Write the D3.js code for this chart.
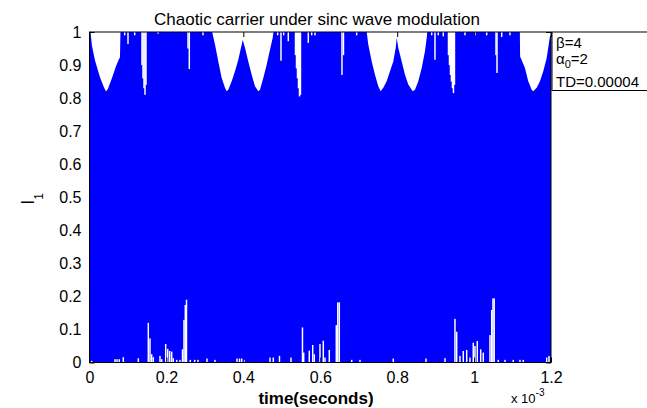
<!DOCTYPE html>
<html>
<head>
<meta charset="utf-8">
<script src="https://cdn.jsdelivr.net/npm/d3@7"></script>
<style>
  body { margin: 0; background: #fff; }
  text { font-family: "Liberation Sans", Arial, sans-serif; fill: #000; }
</style>
</head>
<body>
<svg width="647" height="408"></svg>
<script>
// ---- data (time in units of 1e-3 s, I1 value) ----

// upper envelope of the carrier: the scallops under the 1.0 line
var upperEnv = [
  [0, 1], [0.003, 0.994], [0.0065, 0.958], [0.014, 0.915], [0.027, 0.864], [0.038, 0.831],
  [0.043, 0.82], [0.048, 0.828], [0.0585, 0.861], [0.069, 0.897], [0.078, 0.921], [0.0792, 0.921], [0.0805, 1],
  [0.319, 1], [0.3263, 0.962], [0.3349, 0.911], [0.3437, 0.861], [0.3523, 0.831], [0.3567, 0.821],
  [0.3609, 0.825], [0.3697, 0.851], [0.3783, 0.881], [0.3869, 0.916], [0.3939, 0.952], [0.3986, 0.976],
  [0.4043, 0.952], [0.4129, 0.911], [0.4217, 0.871], [0.4303, 0.836], [0.4389, 0.821], [0.4433, 0.825],
  [0.4519, 0.861], [0.4607, 0.901], [0.4693, 0.946], [0.4763, 0.982], [0.4784, 1],
  [0.7208, 1], [0.7249, 0.962], [0.7338, 0.911], [0.7423, 0.871], [0.7509, 0.836], [0.7571, 0.821],
  [0.7639, 0.831], [0.7727, 0.851], [0.7813, 0.881], [0.7899, 0.911], [0.7962, 0.952], [0.7988, 0.982],
  [0.8029, 0.952], [0.8118, 0.911], [0.8203, 0.871], [0.8289, 0.841], [0.8404, 0.821], [0.8463, 0.825],
  [0.8549, 0.851], [0.8638, 0.891], [0.8723, 0.942], [0.8768, 0.982], [0.8783, 1],
  [1.119, 1], [1.1197, 0.926], [1.1323, 0.891], [1.1409, 0.851], [1.1498, 0.825], [1.1539, 0.821],
  [1.1628, 0.831], [1.1713, 0.851], [1.1799, 0.881], [1.1888, 0.921], [1.1973, 0.987], [1.2, 0.99]
];

// narrow downward gaps from the top (time, lowest value reached)
var topDips = [
  [0.0915, 0.99], [0.1001, 0.964], [0.1175, 0.99],
  [0.1365, 0.90], [0.1391, 0.86], [0.1417, 0.83], [0.1443, 0.81], [0.1469, 0.84],
  [0.1781, 0.995], [0.2561, 0.95], [0.2595, 0.888], [0.2951, 0.99],
  [0.4893, 0.99], [0.4979, 0.913], [0.5049, 0.99], [0.5169, 0.972],
  [0.5356, 0.93], [0.5382, 0.89], [0.5408, 0.86], [0.5434, 0.83], [0.546, 0.805], [0.5486, 0.81],
  [0.5689, 0.967], [0.5777, 0.99], [0.5863, 0.99],
  [0.6565, 0.87], [0.6604, 0.93], [0.6947, 0.99],
  [0.8898, 0.99], [0.8983, 0.916], [0.9069, 0.99], [0.9199, 0.987],
  [0.9334, 0.93], [0.936, 0.90], [0.9386, 0.87], [0.9412, 0.85], [0.9438, 0.83], [0.9464, 0.815], [0.949, 0.84],
  [0.9763, 0.99], [1.0023, 0.99], [1.0328, 0.99], [1.057, 0.93], [1.0596, 0.876],
  [1.0718, 0.985], [1.0933, 0.99]
];

// narrow upward gaps from the bottom (time, highest value reached)
var bottomSpikes = [
  [0.0057, 0.005], [0.0663, 0.01], [0.0715, 0.01], [0.0775, 0.01], [0.0879, 0.016], [0.1269, 0.013],
  [0.1529, 0.12], [0.1573, 0.073], [0.1617, 0.025], [0.1659, 0.016], [0.1833, 0.02], [0.1877, 0.01],
  [0.1981, 0.056], [0.2033, 0.041], [0.2085, 0.035], [0.2137, 0.033], [0.2179, 0.013], [0.2267, 0.008],
  [0.2353, 0.008], [0.2418, 0.04], [0.2457, 0.129], [0.2491, 0.174], [0.2522, 0.19],
  [0.2621, 0.008], [0.2735, 0.008], [0.2821, 0.008], [0.3055, 0.012], [0.3263, 0.008],
  [0.3835, 0.012], [0.39, 0.012], [0.3957, 0.012], [0.4025, 0.008], [0.4693, 0.015], [0.4779, 0.015],
  [0.494, 0.02], [0.5239, 0.015], [0.5538, 0.106], [0.557, 0.03], [0.5715, 0.036], [0.5804, 0.053],
  [0.5845, 0.025], [0.5993, 0.056], [0.6079, 0.066], [0.6123, 0.015], [0.6235, 0.038],
  [0.6417, 0.113], [0.6456, 0.182], [0.6495, 0.182], [0.6818, 0.008], [0.7033, 0.008],
  [0.7899, 0.012], [0.8749, 0.012], [0.9243, 0.013], [0.9503, 0.132], [0.9548, 0.093],
  [0.9633, 0.02], [0.9719, 0.035], [0.9808, 0.038], [0.9893, 0.015], [0.9979, 0.06], [1.0023, 0.05],
  [1.0083, 0.065], [1.0172, 0.04], [1.0239, 0.03], [1.0413, 0.083], [1.0458, 0.159], [1.0491, 0.194],
  [1.0523, 0.194], [1.0629, 0.008], [1.0803, 0.008], [1.1019, 0.008], [1.1193, 0.008], [1.1279, 0.008],
  [1.1888, 0.015], [1.1948, 0.02]
];

var xTicks = [0, 0.2, 0.4, 0.6, 0.8, 1, 1.2];
var xTickLabels = ["0", "0.2", "0.4", "0.6", "0.8", "1", "1.2"];
var yTicks = [0, 0.1, 0.2, 0.3, 0.4, 0.5, 0.6, 0.7, 0.8, 0.9, 1];
var yTickLabels = ["0", "0.1", "0.2", "0.3", "0.4", "0.5", "0.6", "0.7", "0.8", "0.9", "1"];

var titleText = "Chaotic carrier under sinc wave modulation";
var xLabel = "time(seconds)";
var params = { beta: "4", alpha0: "2", td: "0.00004" };

// ---- chart ----
var svg = d3.select("svg");

var x = d3.scaleLinear().domain([0, 1.2]).range([89.5, 551]),
    y = d3.scaleLinear().domain([0, 1]).range([362.5, 32]);

var gapWidth = 0.0038; // one sample column, in time units

// ticks sit under the data (MATLAB layer = bottom)
function styleAxis(g) {
  g.select(".domain").remove();
  g.selectAll(".tick line").attr("stroke", "#000");
  g.selectAll("text").attr("font-size", 16).attr("font-family", "Liberation Sans, Arial, sans-serif");
}

svg.append("g")
    .attr("transform", "translate(0,362.5)")
    .call(d3.axisBottom(x).tickValues(xTicks).tickFormat(function(d, i) { return xTickLabels[i]; })
      .tickSize(-5).tickPadding(9))
    .call(styleAxis);

svg.append("g")
    .attr("transform", "translate(89.5,0)")
    .call(d3.axisLeft(y).tickValues(yTicks).tickFormat(function(d, i) { return yTickLabels[i]; })
      .tickSize(-5).tickPadding(8))
    .call(styleAxis);

svg.append("g")
    .attr("transform", "translate(0,32)")
    .call(d3.axisTop(x).tickValues(xTicks).tickFormat("").tickSize(-5))
    .call(styleAxis);

svg.append("g")
    .attr("transform", "translate(551,0)")
    .call(d3.axisRight(y).tickValues(yTicks).tickFormat("").tickSize(-5))
    .call(styleAxis);

// mask that cuts the narrow gaps out of the blue fill
var mask = svg.append("defs").append("mask").attr("id", "gaps");
mask.append("rect").attr("width", 647).attr("height", 408).attr("fill", "#fff");
mask.selectAll("rect.top")
    .data(topDips)
    .enter().append("rect")
    .attr("class", "top")
    .attr("x", function(d) { return x(d[0] - gapWidth / 2); })
    .attr("width", function(d) { return x(d[0] + gapWidth / 2) - x(d[0] - gapWidth / 2); })
    .attr("y", y(1) - 1)
    .attr("height", function(d) { return y(d[1]) - y(1) + 1; })
    .attr("fill", "#000");
mask.selectAll("rect.bot")
    .data(bottomSpikes)
    .enter().append("rect")
    .attr("class", "bot")
    .attr("x", function(d) { return x(d[0] - gapWidth / 2); })
    .attr("width", function(d) { return x(d[0] + gapWidth / 2) - x(d[0] - gapWidth / 2); })
    .attr("y", function(d) { return y(d[1]); })
    .attr("height", function(d) { return y(0) - y(d[1]) + 1; })
    .attr("fill", "#000");

var area = d3.area()
    .x(function(d) { return x(d[0]); })
    .y0(y(0))
    .y1(function(d) { return y(d[1]); });

svg.append("path")
    .datum(upperEnv)
    .attr("d", area)
    .attr("fill", "#0000ff")
    .attr("mask", "url(#gaps)");

// axes box
svg.append("rect")
    .attr("x", x(0)).attr("y", y(1))
    .attr("width", x(1.2) - x(0)).attr("height", y(0) - y(1))
    .attr("fill", "none")
    .attr("stroke", "#000")
    .attr("stroke-width", 1);

// legend box (runs off the right edge)
var leg = svg.append("g");
leg.append("rect")
    .attr("x", 552).attr("y", 32)
    .attr("width", 120).attr("height", 58.5)
    .attr("fill", "#fff")
    .attr("stroke", "#000");

leg.append("text").attr("x", 556).attr("y", 48).attr("font-size", 15).text("\u03b2=" + params.beta);
var a = leg.append("text").attr("x", 556).attr("y", 64).attr("font-size", 15);
a.append("tspan").text("\u03b1");
a.append("tspan").attr("dy", 4).attr("font-size", 11).text("0");
a.append("tspan").attr("dy", -4).text("=" + params.alpha0);
leg.append("text").attr("x", 556).attr("y", 87).attr("font-size", 15).text("TD=" + params.td);

// title and labels
svg.append("text")
    .attr("x", 317).attr("y", 25)
    .attr("text-anchor", "middle")
    .attr("font-size", 17)
    .text(titleText);

svg.append("text")
    .attr("x", 316).attr("y", 404)
    .attr("text-anchor", "middle")
    .attr("font-size", 17)
    .attr("font-weight", "bold")
    .text(xLabel);

var yl = svg.append("text")
    .attr("transform", "translate(34,199) rotate(-90)")
    .attr("text-anchor", "middle")
    .attr("font-size", 18);
yl.append("tspan").text("I");
yl.append("tspan").attr("dy", 9).attr("font-size", 12).text("1");

var ex = svg.append("text")
    .attr("x", 511).attr("y", 403)
    .attr("font-size", 13);
ex.append("tspan").text("x 10");
ex.append("tspan").attr("dy", -7).attr("font-size", 10).text("-3");
</script>
</body>
</html>
